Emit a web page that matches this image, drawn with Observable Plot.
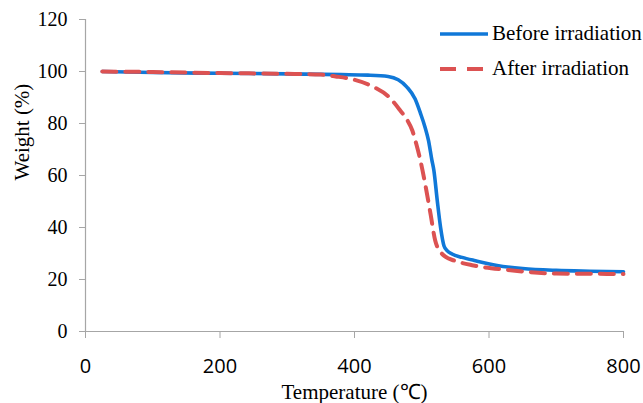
<!DOCTYPE html>
<html>
<head>
<meta charset="utf-8">
<script src="https://cdn.jsdelivr.net/npm/d3@7"></script>
<script src="https://cdn.jsdelivr.net/npm/@observablehq/plot@0.6"></script>
<style>
  html, body { margin: 0; padding: 0; background: #fff; }
  #chart { position: relative; width: 643px; height: 403px; }
  .legend { position: absolute; left: 440px; top: 16px; font-family: "Liberation Serif", serif; font-size: 21px; color: #000; }
  .legend .row { display: flex; align-items: center; height: 35px; }
  .legend svg { margin-right: 4px; }
</style>
</head>
<body>
<div id="chart"></div>
<script>
// TGA curves: sample weight (%) versus temperature (°C)
const beforeTemp = [25, 100, 200, 300, 380, 420, 450, 465, 478, 490, 498, 505, 510, 515, 518, 523, 528, 533, 538, 545, 560, 580, 612, 650, 700, 750, 800];
const beforeWeight = [100, 99.6, 99.3, 99.1, 98.8, 98.6, 98.1, 96.8, 94, 89.5, 84, 78.5, 73.5, 66, 62, 50.5, 40, 33, 31, 29.8, 28.5, 27.2, 25.4, 24.2, 23.5, 23.2, 23];

const afterTemp = [25, 100, 200, 300, 350, 372, 400, 429, 450, 468, 478, 486, 492, 498, 506, 513, 520, 524, 528, 535, 548, 577, 627, 700, 750, 800];
const afterWeight = [100, 99.8, 99.4, 99.1, 98.8, 98.1, 96.8, 94, 90.5, 85, 81.5, 77.3, 72, 65.8, 55.5, 45.3, 35, 32, 30.5, 28.8, 27.3, 25.4, 23.7, 22.3, 22.2, 22.1];

const xTicks = [0, 200, 400, 600, 800];
const yTicks = [0, 20, 40, 60, 80, 100, 120];
const seriesNames = ["Before irradiation", "After irradiation"];
const seriesColors = ["#1078d8", "#dc5252"];

const before = beforeTemp.map((t, i) => ({t, w: beforeWeight[i]}));
const after = afterTemp.map((t, i) => ({t, w: afterWeight[i]}));

const serif = "Liberation Serif, serif";
const axisGray = "#a6a6a6";

const plot = Plot.plot({
  width: 643,
  height: 403,
  marginLeft: 85,
  marginRight: 20,
  marginTop: 19,
  marginBottom: 72,
  style: { fontFamily: serif, fontSize: "20px", color: "#000", background: "#fff" },
  x: { domain: [0, 800], label: null },
  y: { domain: [0, 120], label: null },
  marks: [
    Plot.axisY({ticks: yTicks, tickSize: 6, tickPadding: 12, stroke: axisGray, strokeOpacity: 1, fontSize: 20, fontFamily: serif}),
    Plot.axisX({ticks: xTicks, tickSize: 7, tickPadding: 20, stroke: axisGray, strokeOpacity: 1, fontSize: 20, fontFamily: "Open Sans, sans-serif"}),
    Plot.ruleX([0], {stroke: axisGray, strokeWidth: 1.2}),
    Plot.ruleY([0], {stroke: axisGray, strokeWidth: 1.2}),
    Plot.line(before, {x: "t", y: "w", stroke: seriesColors[0], strokeWidth: 3.6, curve: "monotone-x"}),
    Plot.line(after, {x: "t", y: "w", stroke: seriesColors[1], strokeWidth: 4, strokeDasharray: "14,9", curve: "monotone-x"}),
    Plot.text(["Weight (%)"], {frameAnchor: "left", dx: -63, dy: 5, rotate: -90, fontSize: 21, fontFamily: serif}),
    Plot.text(["Temperature (℃)"], {frameAnchor: "bottom", dy: 67, fontSize: 21, fontFamily: serif})
  ]
});

const chart = document.getElementById("chart");
chart.appendChild(plot);

// legend overlaid on the upper-right of the plot area
const legend = document.createElement("div");
legend.className = "legend";
seriesNames.forEach((name, i) => {
  const row = document.createElement("div");
  row.className = "row";
  const dash = i === 1 ? 'stroke-dasharray="16,11"' : "";
  row.innerHTML = `<svg width="48" height="10"><line x1="0" y1="5" x2="48" y2="5" stroke="${seriesColors[i]}" stroke-width="${i === 1 ? 4 : 3.6}" ${dash}/></svg><span>${name}</span>`;
  legend.appendChild(row);
});
chart.appendChild(legend);
</script>
</body>
</html>
